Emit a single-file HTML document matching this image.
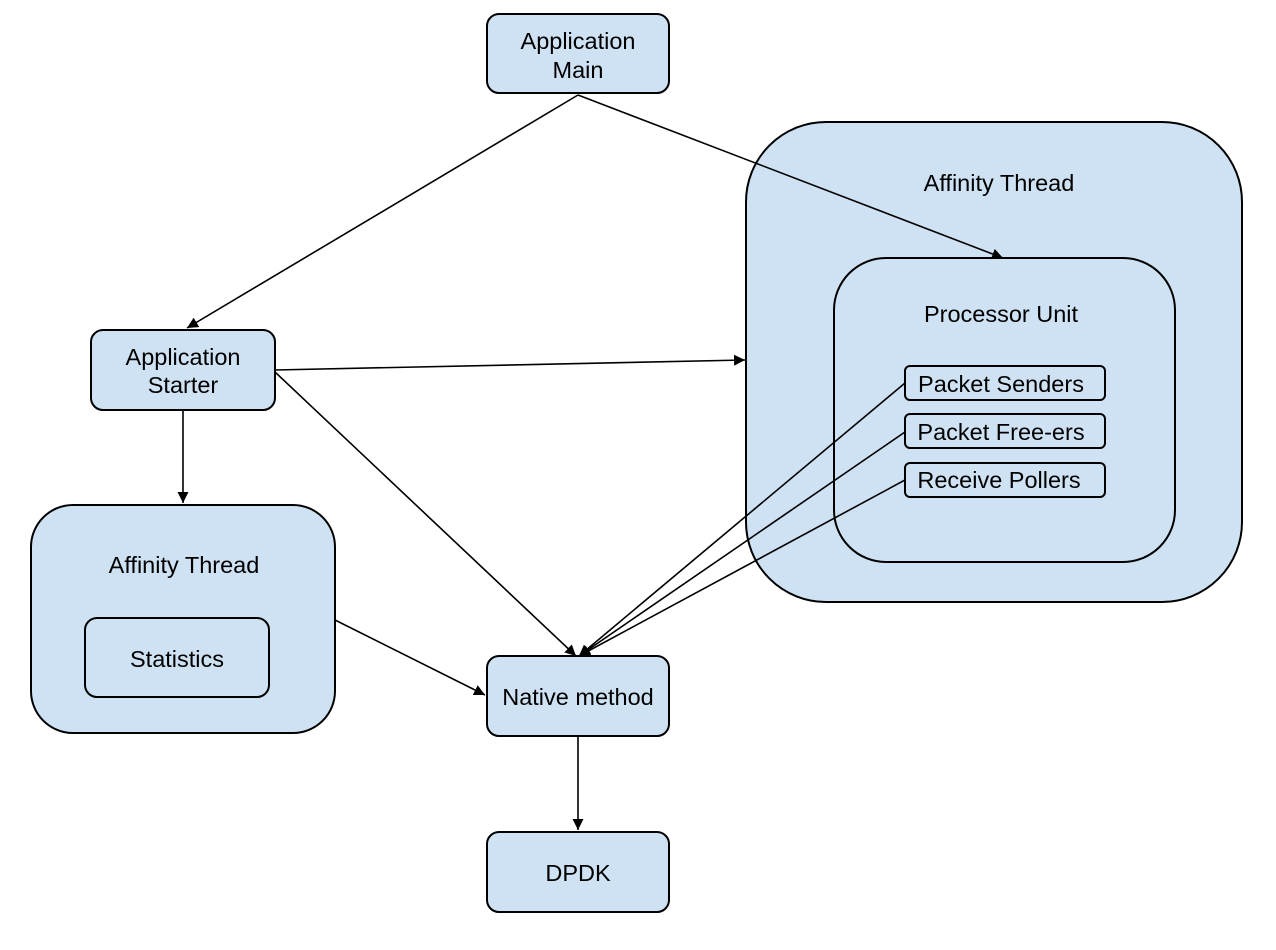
<!DOCTYPE html>
<html><head><meta charset="utf-8"><style>
html,body{margin:0;padding:0;background:#fff;}
svg{display:block;}
text{font-family:"Liberation Sans",Arial,sans-serif;font-size:23.5px;fill:#000;text-anchor:middle;}
</style></head><body>
<svg width="1276" height="950" viewBox="0 0 1276 950" xmlns="http://www.w3.org/2000/svg">
<defs>
<marker id="a" viewBox="0 0 10 10" refX="10" refY="5" markerWidth="11" markerHeight="11" markerUnits="userSpaceOnUse" orient="auto">
<path d="M0,0 L10,5 L0,10 z" fill="#000"/>
</marker>
</defs>
<g fill="#cfe2f3" stroke="#000" stroke-width="2">
<rect x="487" y="14" width="182" height="79" rx="12"/>
<rect x="746" y="122" width="496" height="480" rx="80"/>
<rect x="834" y="258" width="341" height="304" rx="52"/>
<rect x="905" y="366" width="200" height="34" rx="5"/>
<rect x="905" y="414" width="200" height="34" rx="5"/>
<rect x="905" y="463" width="200" height="34" rx="5"/>
<rect x="91" y="330" width="184" height="80" rx="12"/>
<rect x="31" y="505" width="304" height="228" rx="42"/>
<rect x="85" y="618" width="184" height="79" rx="12"/>
<rect x="487" y="656" width="182" height="80" rx="12"/>
<rect x="487" y="832" width="182" height="80" rx="12"/>
</g>
<g stroke="#000" stroke-width="1.6" fill="none" marker-end="url(#a)">
<line x1="578" y1="95" x2="187" y2="328"/>
<line x1="578" y1="95" x2="1003" y2="258"/>
<line x1="275" y1="370" x2="745" y2="360"/>
<line x1="183" y1="410" x2="183" y2="503"/>
<line x1="275" y1="372" x2="576" y2="656"/>
<line x1="335" y1="620" x2="485" y2="695"/>
<line x1="905" y1="383" x2="579" y2="656"/>
<line x1="905" y1="432" x2="579" y2="656"/>
<line x1="905" y1="480" x2="579" y2="656"/>
<line x1="578" y1="736" x2="578" y2="830"/>
</g>
<text x="578" y="49">Application</text>
<text x="578" y="78">Main</text>
<text x="999" y="191">Affinity Thread</text>
<text x="1001" y="322">Processor Unit</text>
<text x="1001" y="392">Packet Senders</text>
<text x="1001" y="440">Packet Free-ers</text>
<text x="999" y="488">Receive Pollers</text>
<text x="183" y="365">Application</text>
<text x="183" y="393">Starter</text>
<text x="184" y="573">Affinity Thread</text>
<text x="177" y="667">Statistics</text>
<text x="578" y="705">Native method</text>
<text x="578" y="881">DPDK</text>
</svg>
</body></html>
